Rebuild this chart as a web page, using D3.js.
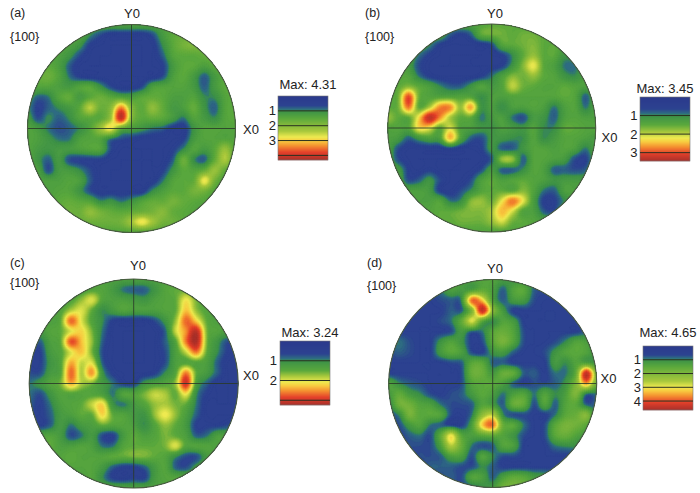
<!DOCTYPE html>
<html><head><meta charset="utf-8">
<script src="https://cdn.jsdelivr.net/npm/d3@7"></script>
<style>html,body{margin:0;background:#fff}svg{display:block}text{font-family:"Liberation Sans",Arial,sans-serif;fill:#222}</style>
</head><body><svg id="c" width="700" height="493"></svg>
<script>
// Pole density, tenths of a unit, rows Y+ to Y-, columns X- to X+
const gridA=[
[13,13,13,13,13,13,13,13,13,13,13,13,13,13,13,13,13,13,13,13,13],
[13,13,13,13,13,14,10,7,5,5,5,5,7,12,15,16,16,16,16,16,16],
[13,13,13,13,13,11,6,5,5,5,5,5,5,10,15,18,19,17,16,16,16],
[13,13,13,13,11,7,5,5,5,5,5,5,5,8,14,15,15,16,17,17,17],
[14,14,15,13,8,5,5,5,5,5,5,5,5,6,12,15,15,13,15,16,16],
[16,16,17,14,9,6,5,5,5,5,5,5,5,7,13,15,12,8,12,15,16],
[15,14,14,13,12,14,15,11,7,5,5,7,13,14,14,14,12,8,12,15,15],
[12,8,9,14,16,12,15,17,15,14,13,15,16,15,13,13,14,10,10,14,15],
[10,6,8,10,12,15,25,17,20,34,20,15,21,16,12,13,16,11,8,14,15],
[12,7,10,8,10,14,15,15,22,41,20,15,16,15,12,9,14,12,10,14,15],
[14,12,9,7,8,10,14,22,28,16,13,11,9,8,5,5,11,14,14,14,14],
[14,13,11,9,9,13,14,14,9,7,6,5,5,5,5,6,12,14,14,14,14],
[14,12,11,12,12,13,14,14,7,5,5,5,5,5,6,10,14,12,15,22,14],
[14,11,8,12,7,6,6,6,5,5,5,5,5,5,8,17,10,8,16,24,14],
[13,13,7,12,12,10,7,5,5,5,5,5,5,6,11,15,14,16,22,16,13],
[13,13,13,13,14,13,8,5,5,5,5,5,5,9,14,15,16,28,18,13,13],
[13,13,13,14,14,11,7,5,5,5,5,5,10,13,15,15,18,18,14,13,13],
[13,13,13,15,16,15,14,10,11,9,11,14,16,16,18,16,15,14,13,13,13],
[13,13,13,15,17,17,21,18,16,15,16,17,18,20,16,15,14,13,13,13,13],
[14,14,14,14,15,16,17,17,17,18,23,28,23,18,17,15,14,14,14,14,14],
[14,14,14,14,14,14,14,14,14,14,14,14,14,14,14,14,14,14,14,14,14]];
const gridB=[
[13,13,13,13,13,13,13,13,13,14,15,15,15,14,14,14,14,14,14,14,14],
[13,13,13,13,13,13,8,6,8,15,16,16,15,16,16,15,14,14,14,14,14],
[13,13,13,13,10,6,5,5,5,5,7,14,15,16,17,15,15,14,14,14,14],
[13,13,13,9,6,5,5,5,5,5,5,6,10,15,18,15,15,11,12,14,14],
[13,14,12,7,5,5,5,5,5,5,5,6,11,17,22,15,13,9,9,13,14],
[14,14,14,9,6,5,5,5,5,6,9,13,17,16,18,15,14,11,10,13,14],
[15,15,17,15,13,10,8,8,11,14,12,14,20,16,15,14,14,15,14,13,14],
[15,16,30,16,14,14,14,14,14,10,13,13,14,14,14,14,14,15,14,8,13],
[15,16,28,15,19,27,27,18,26,11,13,10,13,13,14,13,9,13,14,9,13],
[18,15,15,23,33,27,19,15,15,9,12,13,9,7,12,11,8,13,14,13,13],
[14,14,14,23,22,15,21,14,13,11,11,13,12,11,14,10,10,15,15,14,14],
[13,12,8,11,13,13,25,14,8,7,11,11,10,10,14,10,12,14,14,13,12],
[13,7,5,5,5,5,6,5,5,6,11,8,8,11,14,14,13,14,13,9,13],
[13,7,5,5,5,5,5,5,5,5,8,18,18,8,14,14,13,12,7,6,12],
[13,12,6,5,6,5,5,5,5,7,12,8,8,10,14,13,8,8,7,8,13],
[13,13,7,8,11,7,5,5,7,13,15,13,14,15,14,13,11,12,12,12,13],
[13,13,13,13,12,6,5,7,10,14,15,15,14,17,14,9,8,13,13,13,13],
[13,13,13,13,13,14,9,10,17,18,16,22,28,22,13,6,6,10,13,13,13],
[13,13,13,13,14,15,15,16,17,17,19,25,21,14,13,8,7,13,13,13,13],
[13,13,13,13,14,15,15,16,16,16,18,21,16,15,14,13,13,13,13,13,13],
[14,14,14,14,14,14,14,14,14,14,14,14,14,14,14,14,14,14,14,14,14]];
const gridC=[
[13,13,13,13,13,13,13,13,13,13,13,13,13,13,13,13,13,13,13,13,13],
[13,13,13,13,13,13,14,14,12,9,8,8,11,14,15,15,15,14,13,13,13],
[13,13,13,13,14,17,20,14,13,13,12,11,13,14,15,21,16,14,13,13,13],
[13,13,13,14,18,20,15,10,12,14,13,13,13,14,15,23,17,14,13,13,13],
[13,13,13,15,27,20,14,10,6,5,5,5,7,11,17,27,22,15,13,13,13],
[13,12,14,15,20,22,16,9,5,5,5,5,5,8,19,25,31,16,14,13,13],
[9,8,13,15,28,23,17,8,5,5,5,5,5,8,14,26,32,16,11,7,6],
[7,6,12,14,20,23,16,7,5,5,5,5,5,7,13,19,26,15,10,6,5],
[6,6,11,14,24,19,20,8,5,5,5,5,5,7,13,14,14,13,8,5,5],
[7,7,12,14,27,18,25,11,6,5,5,5,6,10,14,26,15,12,8,5,5],
[9,11,14,16,24,18,16,12,9,6,6,11,13,14,17,30,13,8,5,5,5],
[9,7,11,14,14,14,14,13,9,14,14,16,19,18,15,21,10,6,5,5,5],
[8,6,9,13,14,15,19,22,11,9,12,14,17,18,16,15,9,5,5,5,5],
[7,6,8,12,13,15,15,22,15,14,12,11,17,21,17,13,8,5,5,5,5],
[7,6,8,12,9,12,13,15,14,14,13,10,14,17,15,12,6,6,6,7,9],
[12,13,14,12,7,9,12,7,6,12,15,13,14,16,15,13,8,9,13,13,13],
[13,13,15,13,13,14,13,9,9,14,15,15,15,16,20,14,14,14,13,13,13],
[13,13,13,14,15,14,14,14,15,15,16,16,15,14,10,7,7,12,13,13,13],
[13,13,13,13,14,14,14,12,8,6,6,8,12,14,8,7,11,13,13,13,13],
[13,13,13,13,13,13,14,10,6,5,6,6,12,14,14,14,13,13,13,13,13],
[13,13,13,13,13,13,13,13,13,13,13,13,13,13,13,13,13,13,13,13,13]];
const gridD=[
[8,8,8,8,8,8,12,13,13,14,14,12,11,11,9,8,8,8,8,8,8],
[7,7,7,7,7,9,13,12,13,16,13,8,14,15,8,7,7,7,7,7,7],
[6,6,6,6,6,7,8,10,38,32,14,8,12,12,7,6,6,6,6,6,6],
[6,6,6,6,6,6,8,8,20,44,22,12,6,6,6,6,6,6,6,6,6],
[6,6,6,6,6,7,9,16,29,15,10,14,12,6,6,6,6,6,6,7,7],
[6,6,6,6,6,6,7,12,8,9,15,17,14,7,6,6,6,6,6,8,8],
[8,9,7,6,6,11,14,11,6,7,15,19,14,7,6,6,7,10,14,13,9],
[7,8,7,6,6,12,15,13,7,6,11,12,8,6,6,7,11,14,15,14,10],
[6,6,6,6,6,6,7,8,15,15,8,8,6,6,6,6,12,10,14,13,11],
[6,6,6,6,6,6,6,7,17,17,12,17,16,8,8,6,9,9,16,44,20],
[14,10,8,7,6,6,6,7,14,15,15,13,8,6,7,7,8,11,20,35,18],
[12,16,12,10,7,6,7,8,12,15,13,9,13,14,9,14,10,13,20,9,9],
[9,18,18,14,13,9,7,7,8,14,12,8,17,16,7,14,8,14,15,8,8],
[7,10,19,15,15,14,7,6,9,22,26,10,7,7,6,6,9,15,17,21,8],
[6,7,12,14,9,8,6,6,13,32,38,17,15,9,6,7,15,19,18,15,8],
[6,6,8,9,7,16,30,15,13,15,16,14,11,7,6,7,15,17,14,11,7],
[6,6,7,7,7,13,26,17,9,7,8,14,13,6,6,6,9,10,10,7,6],
[6,6,6,7,7,8,13,13,7,14,10,7,7,6,6,6,6,6,6,6,6],
[6,6,6,6,8,8,8,7,7,10,8,6,6,6,6,6,6,6,6,6,6],
[6,6,6,6,7,7,8,7,14,13,8,13,16,15,12,11,8,7,6,6,6],
[7,7,7,7,7,7,7,7,8,10,12,18,19,17,12,8,7,7,7,7,7]];
const panelNames=["(a)","(b)","(c)","(d)"];
const maxValues=[4.31,3.45,3.24,4.65];
const legendTicks=[[1,2,3],[1,2,3],[1,2],[1,2,3,4]];
const legendLines=[[1,2,3,4],[1,2,3],[1,2,3],[1,2,3,4]];
const planeLabel="{100}",axisY="Y0",axisX="X0";
const stopColors=["#2b398c","#2c4290","#2e7080","#3b9048","#5aa83c","#a8c83c","#eeea50","#f8cc40","#f49030","#e4402a","#a8302a"];
const lowStops=[0,.65,.9,1,1.5], highStops=[.55,.64,.7,.78,.88,1];

const layouts=[
{cx:131.5,cy:128.5,r:104,nx:10,ny:17,px:10,py:41,yx:132,yy:18,xx:243,xy:134,lx:278,ly:96,mx:308,my:89,tx:276},
{cx:491.7,cy:128,r:104,nx:365,ny:17,px:365,py:41,yx:495,yy:18,xx:601.5,xy:142,lx:640,ly:97,mx:665,my:93,tx:637.5},
{cx:133.7,cy:383.5,r:104.5,nx:10,ny:267,px:10,py:287,yx:138,yy:270,xx:243,xy:380,lx:280,ly:341,mx:310,my:337,tx:277},
{cx:492.7,cy:383.5,r:104,nx:367,ny:267,px:367,py:290,yx:495,yy:273,xx:600.5,xy:383,lx:643,ly:346,mx:668,my:337,tx:641}];
const grids=[gridA,gridB,gridC,gridD];
const svg=d3.select("#c");
const defs=svg.append("defs");
const K=5;

// Catmull-Rom resampling of the read grid so the filled bands render smoothly
function cr(p0,p1,p2,p3,t){return .5*((2*p1)+(-p0+p2)*t+(2*p0-5*p1+4*p2-p3)*t*t+(-p0+3*p1-3*p2+p3)*t*t*t);}
function upsample(g){
  const m=g.length,n=(m-1)*K+1,out=new Float64Array(n*n);
  const at=(j,i)=>g[Math.max(0,Math.min(m-1,j))][Math.max(0,Math.min(m-1,i))];
  for(let j=0;j<n;j++)for(let i=0;i<n;i++){
    const u=i/K,v=j/K,i0=Math.min(Math.floor(u),m-2),j0=Math.min(Math.floor(v),m-2),a=u-i0,b=v-j0;
    const row=r=>cr(at(r,i0-1),at(r,i0),at(r,i0+1),at(r,i0+2),a);
    out[j*n+i]=cr(row(j0-1),row(j0),row(j0+1),row(j0+2),b)/10;
  }
  return {values:out,n};
}

layouts.forEach((L,k)=>{
  const max=maxValues[k];
  const color=d3.scaleLinear().domain([...lowStops,...highStops.map(s=>s*max)]).range(stopColors).interpolate(d3.interpolateRgb).clamp(true);
  const {values,n}=upsample(grids[k]);
  const g=svg.append("g");
  const id="clip"+k;
  defs.append("clipPath").attr("id",id).append("circle").attr("cx",L.cx).attr("cy",L.cy).attr("r",L.r);
  const x=d3.scaleLinear().domain([0.5,n-0.5]).range([L.cx-L.r,L.cx+L.r]);
  const y=d3.scaleLinear().domain([0.5,n-0.5]).range([L.cy-L.r,L.cy+L.r]);
  const path=d3.geoPath(d3.geoTransform({point(a,b){this.stream.point(x(a),y(b));}}));
  const step=0.05;
  const levels=d3.range(0.3,max+0.6,step);
  const plot=g.append("g").attr("clip-path",`url(#${id})`);
  plot.append("circle").attr("cx",L.cx).attr("cy",L.cy).attr("r",L.r).attr("fill",color(0.3));
  plot.selectAll("path").data(d3.contours().size([n,n]).smooth(true).thresholds(levels)(values)).join("path")
    .attr("d",path).attr("fill",d=>color(d.value+step/2)).attr("stroke",d=>color(d.value+step/2)).attr("stroke-width",.3);
  g.append("line").attr("x1",x.range()[0]).attr("x2",x.range()[1]).attr("y1",L.cy).attr("y2",L.cy).attr("stroke","#2a3a2a").attr("stroke-width",1).attr("opacity",.85);
  g.append("line").attr("x1",L.cx).attr("x2",L.cx).attr("y1",y.range()[0]).attr("y2",y.range()[1]).attr("stroke","#2a3a2a").attr("stroke-width",1).attr("opacity",.85);
  g.append("circle").attr("cx",L.cx).attr("cy",L.cy).attr("r",L.r).attr("fill","none").attr("stroke","#4a5a40").attr("stroke-width",1.1);
  const t=(tx,ty,s,fs,anchor)=>g.append("text").attr("x",tx).attr("y",ty).attr("font-size",fs).attr("text-anchor",anchor||"start").text(s);
  t(L.nx,L.ny,panelNames[k],12.5);
  t(L.px,L.py,planeLabel,12.5);
  t(L.yx,L.yy,axisY,13,"middle");
  t(L.xx,L.xy,axisX,13);
  t(L.mx,L.my,"Max: "+max.toFixed(2),13,"middle");
  const lw=50,lh=64;
  const ly=d3.scaleLinear().domain([0,max]).range([L.ly,L.ly+lh]);
  const lg=g.append("g");
  lg.selectAll("rect").data(d3.range(0,lh)).join("rect")
    .attr("x",L.lx).attr("width",lw).attr("y",d=>L.ly+d).attr("height",1.2)
    .attr("fill",d=>color(ly.invert(L.ly+d+.5)));
  lg.append("rect").attr("x",L.lx).attr("y",L.ly).attr("width",lw).attr("height",lh).attr("fill","none").attr("stroke","#777").attr("stroke-width",.6);
  lg.selectAll("line").data(legendLines[k]).join("line").attr("x1",L.lx).attr("x2",L.lx+lw).attr("y1",d=>ly(d)).attr("y2",d=>ly(d)).attr("stroke","#2a3020").attr("stroke-width",1);
  lg.selectAll("text").data(legendTicks[k]).join("text").attr("x",L.tx).attr("y",d=>ly(d)+4.5).attr("text-anchor","end").attr("font-size",13).text(d=>d);
});
</script></body></html>
